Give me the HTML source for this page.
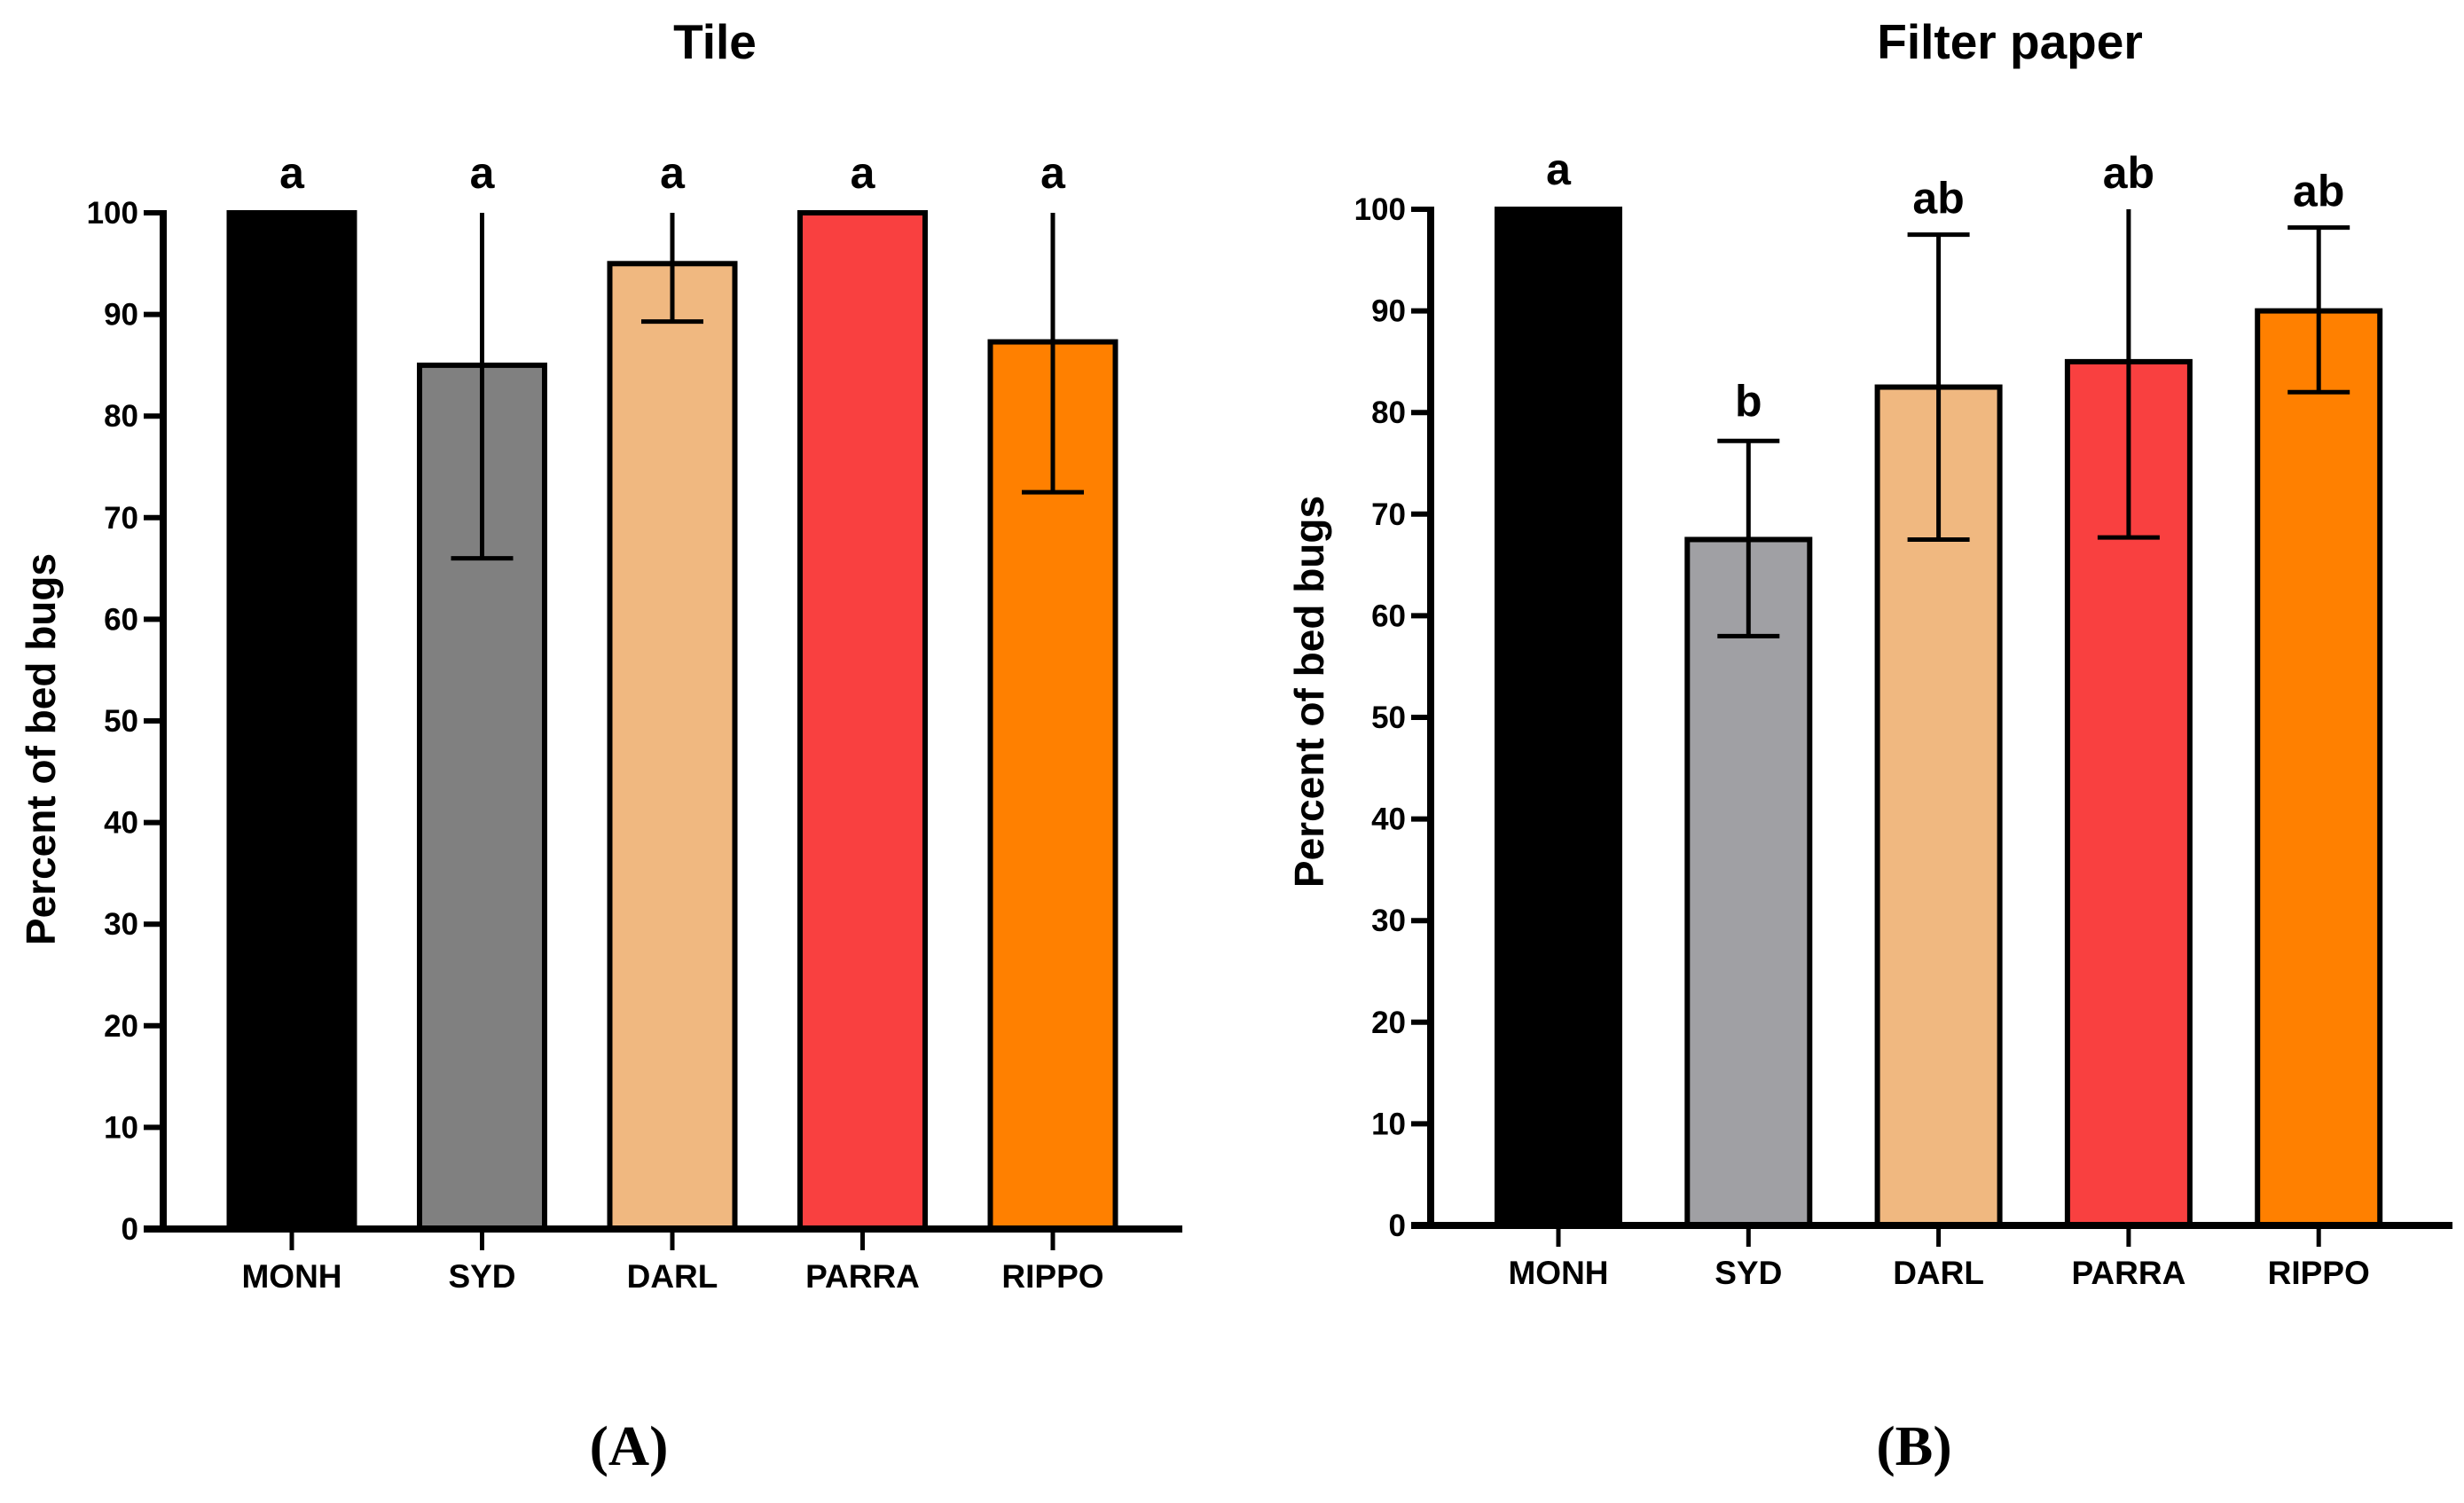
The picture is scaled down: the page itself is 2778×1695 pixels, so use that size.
<!DOCTYPE html>
<html><head><meta charset="utf-8"><style>
html,body{margin:0;padding:0;background:#fff;}
svg{display:block;}
text{font-family:"Liberation Sans",sans-serif;font-weight:bold;fill:#000;}
</style></head><body>
<svg id="fig" width="2778" height="1695" viewBox="0 0 2778 1695" xmlns="http://www.w3.org/2000/svg"></svg>
<script>
const categories = ["MONH","SYD","DARL","PARRA","RIPPO"];
const tileValues = [100, 85, 95, 100, 87.3];
const tileErrLow = [100, 66, 89.3, 100, 72.5];
const tileErrHigh = [100, 100, 100, 100, 100];
const tileLetters = ["a","a","a","a","a"];
const paperValues = [100, 67.5, 82.5, 85, 90];
const paperErrLow = [100, 58, 67.5, 67.7, 82];
const paperErrHigh = [100, 77.2, 97.5, 100, 98.2];
const paperLetters = ["a","b","ab","ab","ab"];
const yTicks = [0,10,20,30,40,50,60,70,80,90,100];
const tileColors = ["#000000","#808080","#f0b880","#f94040","#ff8000"];
const paperColors = ["#000000","#a0a0a4","#f0b880","#f94040","#ff8000"];

const NS="http://www.w3.org/2000/svg";
const svg=document.getElementById('fig');
function mk(tag,attrs,parent){const e=document.createElementNS(NS,tag);for(const k in attrs)e.setAttribute(k,attrs[k]);(parent||svg).appendChild(e);return e;}

function panel(cfg){
  const g=mk('g',{});
  
  
  const y=v=>cfg.y0-(v/100)*(cfg.y0-cfg.y100);
  const x=i=>cfg.xFirst+i*cfg.step;
  const t=mk('text',{x:cfg.titleX,y:66,'font-size':55,'text-anchor':'middle'},g);t.textContent=cfg.title;
  
  
  const yt=mk('text',{x:0,y:0,'font-size':46,'text-anchor':'middle',transform:`translate(${cfg.yTitleX},${cfg.yTitleY}) rotate(-90)`},g);yt.textContent="Percent of bed bugs";
  
  
  categories.forEach((c,i)=>{
    const cx=x(i),w=cfg.barW,top=y(cfg.values[i]);
    const r=mk('rect',{x:cx-w/2,y:top,width:w,height:cfg.y0-top,fill:cfg.colors[i],stroke:'#000','stroke-width':6},g);
    
    
    const lo=y(cfg.errLow[i]),hi=y(cfg.errHigh[i]);
    if(cfg.errHigh[i]!==cfg.errLow[i]){
      const e=mk('path',{d:`M${cx},${hi}V${lo}M${cx-35},${lo}H${cx+35}`+(cfg.errHigh[i]<100?`M${cx-35},${hi}H${cx+35}`:''),stroke:'#000','stroke-width':5,fill:'none'},g);
      
      
    }
    const lt=mk('text',{x:cx,y:Math.min(hi,top)-(cfg.letters[i].length>1?24:28),'font-size':50,'text-anchor':'middle'},g);lt.textContent=cfg.letters[i];
    
    
    mk('line',{x1:cx,x2:cx,y1:cfg.y0,y2:cfg.y0+24,stroke:'#000','stroke-width':5},g);
    const cl=mk('text',{x:cx,y:cfg.y0+66,'font-size':37,'text-anchor':'middle'},g);cl.textContent=c;
    
    
  });
  yTicks.forEach(v=>{
    mk('line',{x1:cfg.axisX-22,x2:cfg.axisX,y1:y(v),y2:y(v),stroke:'#000','stroke-width':6},g);
    const tl=mk('text',{x:cfg.axisX-28,y:y(v)+12,'font-size':35,'text-anchor':'end'},g);tl.textContent=v;
    
    
  });
  const ya=mk('line',{x1:cfg.axisX,x2:cfg.axisX,y1:y(100)-3,y2:cfg.y0+4,stroke:'#000','stroke-width':8},g);
  
  
  const xa=mk('line',{x1:cfg.axisX-22,x2:cfg.xEnd,y1:cfg.y0,y2:cfg.y0,stroke:'#000','stroke-width':8},g);
  
  
  const pl=mk('text',{x:cfg.labelX,y:1652,'font-size':64,'text-anchor':'middle',style:'font-family:"Liberation Serif",serif'},g);pl.textContent=cfg.label;
  
  
}
panel({name:'panel-a-tile',title:'Tile',titleX:806,yTitleX:62,yTitleY:845,axisX:184,y0:1386,y100:240,xFirst:329,step:214.5,barW:141,xEnd:1333,values:tileValues,errLow:tileErrLow,errHigh:tileErrHigh,letters:tileLetters,colors:tileColors,label:'(A)',labelX:709});
panel({name:'panel-b-filter-paper',title:'Filter paper',titleX:2266,yTitleX:1492,yTitleY:780,axisX:1613,y0:1382,y100:236,xFirst:1757,step:214.3,barW:138,xEnd:2765,values:paperValues,errLow:paperErrLow,errHigh:paperErrHigh,letters:paperLetters,colors:paperColors,label:'(B)',labelX:2158});
</script>
</body></html>
